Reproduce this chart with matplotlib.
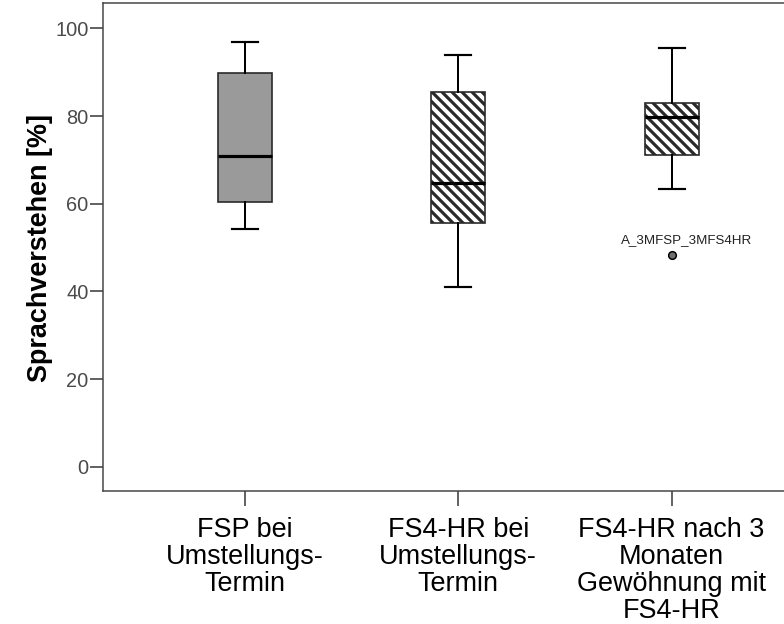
import matplotlib
matplotlib.use('Agg')
import matplotlib.pyplot as plt

plt.rcParams['font.family'] = ['Liberation Sans', 'DejaVu Sans']
plt.rcParams['hatch.linewidth'] = 1.9

# summary values (percent)
groups = ['FSP bei\nUmstellungs-\nTermin',
          'FS4-HR bei\nUmstellungs-\nTermin',
          'FS4-HR nach 3\nMonaten\nGewöhnung mit\nFS4-HR']
whisker_low = [54.3, 41.0, 63.3]
q1 = [60.4, 55.6, 71.2]
median = [70.9, 64.7, 79.7]
q3 = [89.8, 85.5, 83.0]
whisker_high = [97.0, 94.0, 95.5]
outliers = [[], [], [48.4]]
outlier_labels = [[], [], ['A_3MFSP_3MFS4HR']]
yticks = [0, 20, 40, 60, 80, 100]

stats = []
for i in range(len(groups)):
    stats.append(dict(whislo=whisker_low[i], q1=q1[i], med=median[i],
                      q3=q3[i], whishi=whisker_high[i], fliers=outliers[i]))

fig = plt.figure(figsize=(784 / 120, 624 / 120), dpi=120)
ax = fig.add_axes([0.131, 0.2136, 0.907, 0.781])

bp = ax.bxp(stats, positions=[1, 2, 3], widths=0.253, capwidths=0.122,
            patch_artist=True, showfliers=True,
            boxprops=dict(edgecolor='#2a2a2a', linewidth=1.0),
            medianprops=dict(color='black', linewidth=1.9),
            whiskerprops=dict(color='black', linewidth=1.2),
            capprops=dict(color='black', linewidth=1.3),
            flierprops=dict(marker='o', markersize=4.6, markerfacecolor='#707070',
                            markeredgecolor='black', markeredgewidth=0.9))

bp['boxes'][0].set_facecolor('#9a9a9a')
for box in bp['boxes'][1:]:
    box.set_facecolor('white')
    box.set_hatch('\\\\\\\\')

# case label next to the outlier
for i in range(len(groups)):
    for val, lab in zip(outliers[i], outlier_labels[i]):
        ax.annotate(lab, (i + 1, val), xytext=(9, 8.5), textcoords='offset points',
                    ha='center', va='center', fontsize=8, color='#222222')

ax.set_xlim(0.333, 3.667)
ax.set_ylim(-5.47, 105.7)
ax.set_yticks(yticks)
ax.set_xticks([1, 2, 3])
ax.set_xticklabels(groups, fontsize=16.2, linespacing=1.06)
ax.tick_params(axis='y', labelsize=12, length=7.8, width=0.9, pad=0.6,
               colors='#333333', labelcolor='#4a4a4a')
ax.tick_params(axis='x', length=9, width=0.9, pad=6.5, colors='#333333',
               labelcolor='black')

for sp in ax.spines.values():
    sp.set_color('#444444')
    sp.set_linewidth(0.9)

fig.text(40 / 784, 1 - 248 / 624, 'Sprachverstehen [%]', rotation=90,
         ha='center', va='center', fontsize=16.2, fontweight='bold')

fig.savefig('out.png', dpi=120)
